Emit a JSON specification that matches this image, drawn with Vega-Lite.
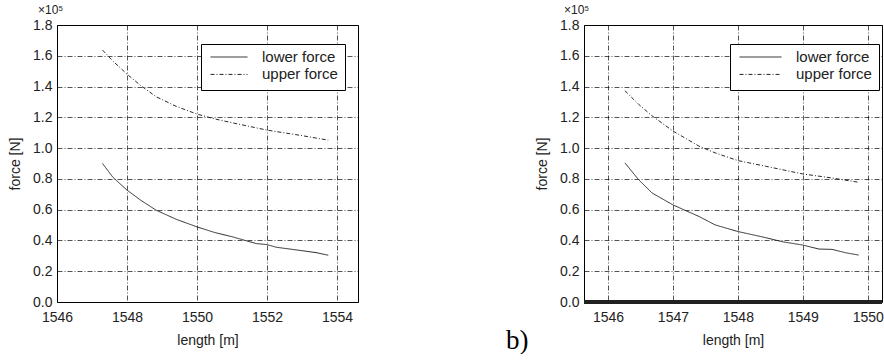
{
  "$schema": "https://vega.github.io/schema/vega-lite/v6.json",
  "padding": {"left": 8, "top": 3, "right": 0, "bottom": 0},
  "background": "white",
  "datasets": {
    "a": [
      {"series": "lower force", "length": 1547.30, "force": 0.900},
      {"series": "lower force", "length": 1547.60, "force": 0.810},
      {"series": "lower force", "length": 1548.00, "force": 0.727},
      {"series": "lower force", "length": 1548.40, "force": 0.660},
      {"series": "lower force", "length": 1548.83, "force": 0.597},
      {"series": "lower force", "length": 1549.40, "force": 0.538},
      {"series": "lower force", "length": 1550.00, "force": 0.488},
      {"series": "lower force", "length": 1550.50, "force": 0.452},
      {"series": "lower force", "length": 1551.02, "force": 0.423},
      {"series": "lower force", "length": 1551.69, "force": 0.380},
      {"series": "lower force", "length": 1552.00, "force": 0.373},
      {"series": "lower force", "length": 1552.26, "force": 0.356},
      {"series": "lower force", "length": 1552.92, "force": 0.336},
      {"series": "lower force", "length": 1553.40, "force": 0.321},
      {"series": "lower force", "length": 1553.75, "force": 0.304},
      {"series": "upper force", "length": 1547.30, "force": 1.637},
      {"series": "upper force", "length": 1547.60, "force": 1.565},
      {"series": "upper force", "length": 1548.00, "force": 1.481},
      {"series": "upper force", "length": 1548.40, "force": 1.405},
      {"series": "upper force", "length": 1548.83, "force": 1.334},
      {"series": "upper force", "length": 1549.40, "force": 1.272},
      {"series": "upper force", "length": 1550.00, "force": 1.221},
      {"series": "upper force", "length": 1550.50, "force": 1.190},
      {"series": "upper force", "length": 1551.02, "force": 1.164},
      {"series": "upper force", "length": 1552.00, "force": 1.117},
      {"series": "upper force", "length": 1552.92, "force": 1.084},
      {"series": "upper force", "length": 1553.75, "force": 1.052}
    ],
    "b": [
      {"series": "lower force", "length": 1546.26, "force": 0.904},
      {"series": "lower force", "length": 1546.47, "force": 0.795},
      {"series": "lower force", "length": 1546.68, "force": 0.708},
      {"series": "lower force", "length": 1547.00, "force": 0.631},
      {"series": "lower force", "length": 1547.40, "force": 0.556},
      {"series": "lower force", "length": 1547.65, "force": 0.501},
      {"series": "lower force", "length": 1548.00, "force": 0.458},
      {"series": "lower force", "length": 1548.43, "force": 0.418},
      {"series": "lower force", "length": 1548.68, "force": 0.392},
      {"series": "lower force", "length": 1549.00, "force": 0.370},
      {"series": "lower force", "length": 1549.25, "force": 0.344},
      {"series": "lower force", "length": 1549.45, "force": 0.342},
      {"series": "lower force", "length": 1549.66, "force": 0.320},
      {"series": "lower force", "length": 1549.86, "force": 0.305},
      {"series": "upper force", "length": 1546.26, "force": 1.373},
      {"series": "upper force", "length": 1546.47, "force": 1.285},
      {"series": "upper force", "length": 1546.68, "force": 1.209},
      {"series": "upper force", "length": 1547.00, "force": 1.111},
      {"series": "upper force", "length": 1547.40, "force": 1.013},
      {"series": "upper force", "length": 1547.65, "force": 0.969},
      {"series": "upper force", "length": 1548.00, "force": 0.919},
      {"series": "upper force", "length": 1548.43, "force": 0.882},
      {"series": "upper force", "length": 1549.00, "force": 0.832},
      {"series": "upper force", "length": 1549.45, "force": 0.806},
      {"series": "upper force", "length": 1549.86, "force": 0.778}
    ]
  },
  "title": {"text": "b)", "orient": "bottom", "anchor": "start", "frame": "group", "font": "Liberation Serif", "fontSize": 27, "fontWeight": "normal", "color": "#000", "dx": 449, "dy": -24},
  "spacing": 176,
  "resolve": {"legend": {"strokeDash": "independent"}, "scale": {"x": "independent"}},
  "config": {
    "font": "Liberation Sans",
    "view": {"stroke": "#000", "strokeWidth": 1},
    "axis": {"grid": true, "gridColor": "#000", "gridDash": [5, 2, 1, 2], "gridWidth": 0.8, "gridOpacity": 0.85, "ticks": false, "domain": false, "labelFont": "Liberation Sans", "labelFontSize": 14, "labelColor": "#222", "titleFont": "Liberation Sans", "titleFontSize": 14, "titleFontWeight": "normal", "titleColor": "#222", "labelFlush": false, "labelOverlap": false},
    "axisX": {"labelPadding": 8, "titlePadding": 9},
    "axisY": {"labelPadding": 5, "titlePadding": 10},
    "title": {"font": "Liberation Sans", "fontSize": 12, "fontWeight": "normal", "color": "#222"}
  },
  "hconcat": [
    {
      "width": 301,
      "height": 277,
      "title": {"text": "×10⁵", "anchor": "start", "frame": "group", "dx": -19, "offset": 1},
      "data": {"name": "a"},
      "mark": {"type": "line", "color": "#2a2a2a", "strokeWidth": 1},
      "encoding": {
        "x": {"field": "length", "type": "quantitative", "title": "length [m]", "scale": {"domain": [1546, 1554.6], "nice": false, "zero": false}, "axis": {"values": [1546, 1548, 1550, 1552, 1554], "format": "d", "labelOverlap": false}},
        "y": {"field": "force", "type": "quantitative", "title": "force [N]", "scale": {"domain": [0, 1.8], "nice": false}, "axis": {"values": [0, 0.2, 0.4, 0.6, 0.8, 1.0, 1.2, 1.4, 1.6, 1.8], "format": ".1f", "labelOverlap": false}},
        "strokeDash": {"field": "series", "type": "nominal", "scale": {"domain": ["lower force", "upper force"], "range": [[1, 0], [4, 2, 1, 2]]}, "legend": {"orient": "none", "legendX": 144, "legendY": 19, "title": null, "fillColor": "white", "strokeColor": "#000", "padding": 7, "symbolType": "stroke", "symbolSize": 1369, "clipHeight": 12, "rowPadding": 2.4, "symbolOffset": 2, "labelOffset": 14, "labelFontSize": 15, "labelFont": "Liberation Sans", "labelColor": "#222", "labelExpr": "datum.label + ' '", "symbolStrokeWidth": 1, "symbolStrokeColor": "#222"}}
      }
    },
    {
      "width": 298,
      "height": 277,
      "title": {"text": "×10⁵", "anchor": "start", "frame": "group", "dx": -20, "offset": 1},
      "data": {"name": "b"},
      "encoding": {
        "y": {"field": "force", "type": "quantitative", "title": "force [N]", "scale": {"domain": [0, 1.8], "nice": false}, "axis": {"values": [0, 0.2, 0.4, 0.6, 0.8, 1.0, 1.2, 1.4, 1.6, 1.8], "format": ".1f", "labelOverlap": false}}
      },
      "layer": [
        {
          "mark": {"type": "line", "color": "#2a2a2a", "strokeWidth": 1},
          "encoding": {
            "x": {"field": "length", "type": "quantitative", "title": "length [m]", "scale": {"domain": [1545.63, 1550.22], "nice": false, "zero": false}, "axis": {"values": [1546, 1547, 1548, 1549, 1550], "format": "d", "labelOverlap": false}},
            "strokeDash": {"field": "series", "type": "nominal", "scale": {"domain": ["lower force", "upper force"], "range": [[1, 0], [4, 2, 1, 2]]}, "legend": {"orient": "none", "legendX": 146, "legendY": 19, "title": null, "fillColor": "white", "strokeColor": "#000", "padding": 7, "symbolType": "stroke", "symbolSize": 1764, "clipHeight": 12, "rowPadding": 2.4, "symbolOffset": 2, "labelOffset": 14, "labelFontSize": 15, "labelFont": "Liberation Sans", "labelColor": "#222", "labelExpr": "datum.label + ' '", "symbolStrokeWidth": 1, "symbolStrokeColor": "#222"}}
          }
        },
        {
          "mark": {"type": "rule", "color": "#222", "strokeWidth": 2.5},
          "encoding": {"y": {"datum": 0, "type": "quantitative", "axis": {"values": [0, 0.2, 0.4, 0.6, 0.8, 1.0, 1.2, 1.4, 1.6, 1.8], "format": ".1f", "labelOverlap": false, "title": "force [N]"}}}
        }
      ]
    }
  ]
}
